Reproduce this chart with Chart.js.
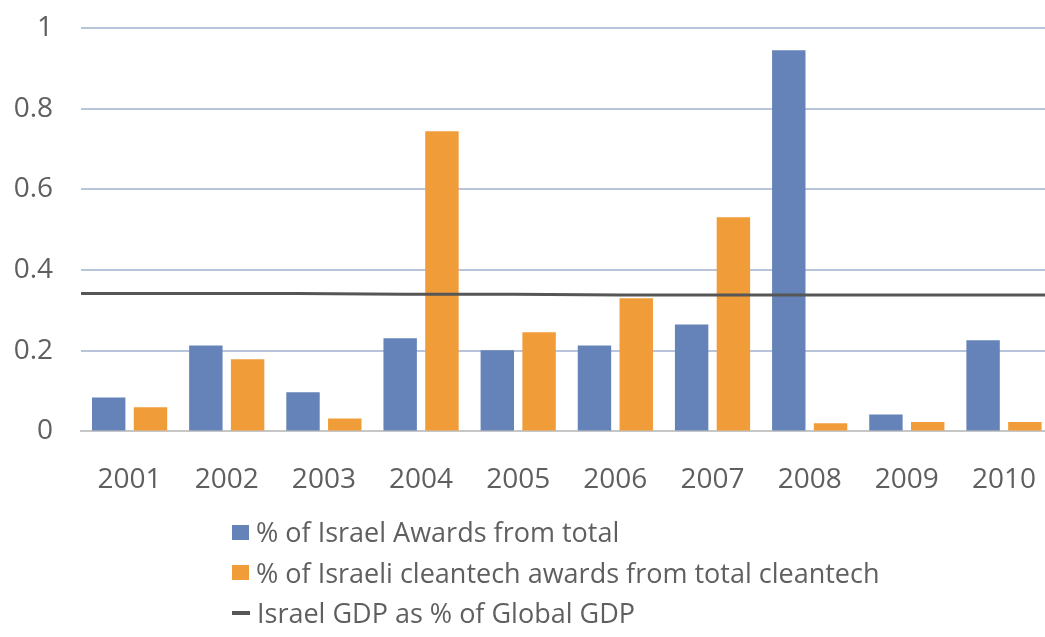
<!DOCTYPE html>
<html>
<head>
<meta charset="utf-8">
<script src="https://cdn.jsdelivr.net/npm/chart.js@4/dist/chart.umd.min.js"></script>
<style>
  html, body { margin: 0; padding: 0; background: #ffffff; overflow: hidden; }
  #wrap { position: relative; width: 1060px; height: 637px; }
  #legend { position: absolute; left: 232px; top: 512px; font-family: "Open Sans", sans-serif; font-size: 27px; color: #5f5f5f; }
  .item { height: 40.5px; line-height: 40.5px; white-space: nowrap; display: flex; align-items: center; }
  .mark { display: inline-block; margin-right: 7px; }
</style>
</head>
<body>
<div id="wrap">
  <canvas id="c" width="1060" height="637"></canvas>
  <div id="legend"></div>
</div>
<script>
const categories = ['2001','2002','2003','2004','2005','2006','2007','2008','2009','2010'];
const israelAwards = [0.084, 0.213, 0.097, 0.231, 0.201, 0.213, 0.265, 0.945, 0.042, 0.226];
const cleantechAwards = [0.060, 0.179, 0.032, 0.744, 0.246, 0.330, 0.531, 0.020, 0.023, 0.023];
const gdpShare = [0.342, 0.342, 0.342, 0.340, 0.340, 0.338, 0.338, 0.338, 0.338, 0.338];
const yTickValues = [0, 0.2, 0.4, 0.6, 0.8, 1];
const yTickLabels = ['0', '0.2', '0.4', '0.6', '0.8', '1'];
const seriesNames = ['% of Israel Awards from total', '% of Israeli cleantech awards from total cleantech', 'Israel GDP as % of Global GDP'];

const BLUE = '#6583B8';
const ORANGE = '#F09C39';
const GDP = '#565656';
const TEXT = '#5f5f5f';
const FONT = '"Open Sans", sans-serif';

// Chart.js 4.5 groups bars per distinct x axis id of *all* datasets; the GDP line
// lives on its own (hidden, edge-to-edge) category axis, so hide that id from the
// bar grouping while the datasets update (scales are already linked by then).
const lineAxisGroupingFix = {
  id: 'lineAxisGroupingFix',
  beforeDatasetsUpdate(chart) {
    chart.data.datasets.forEach(ds => { if (ds.type === 'line' && ds.xAxisID) { ds._savedX = ds.xAxisID; delete ds.xAxisID; } });
  },
  afterDatasetsUpdate(chart) {
    chart.data.datasets.forEach(ds => { if (ds._savedX) { ds.xAxisID = ds._savedX; delete ds._savedX; } });
  }
};

const chart = new Chart(document.getElementById('c'), {
  type: 'bar',
  plugins: [lineAxisGroupingFix],
  data: {
    labels: categories,
    datasets: [
      { label: seriesNames[0], data: israelAwards, backgroundColor: BLUE, categoryPercentage: 0.86, barPercentage: 0.8, order: 1 },
      { label: seriesNames[1], data: cleantechAwards, backgroundColor: ORANGE, categoryPercentage: 0.86, barPercentage: 0.8, order: 1 },
      { type: 'line', label: seriesNames[2], data: gdpShare, xAxisID: 'x2', borderColor: GDP, borderWidth: 3, pointRadius: 0, fill: false, tension: 0, order: 0 }
    ]
  },
  options: {
    responsive: false,
    animation: false,
    devicePixelRatio: 1,
    layout: { padding: { top: 28, bottom: 116, left: 0, right: 0 } },
    plugins: { legend: { display: false }, tooltip: { enabled: false } },
    scales: {
      x: {
        type: 'category',
        grid: { display: false },
        border: { display: true, color: '#C6C6C6', width: 2 },
        ticks: { color: TEXT, font: { family: FONT, size: 28 }, padding: 24, maxRotation: 0 }
      },
      x2: {
        type: 'category',
        labels: categories,
        offset: false,
        display: false,
        grid: { display: false }
      },
      y: {
        min: 0,
        max: 1,
        afterBuildTicks: (scale) => { scale.ticks = yTickValues.map(v => ({ value: v })); },
        afterFit: (scale) => { scale.width = 81; scale.paddingTop = 16; scale.paddingBottom = 16; },
        border: { display: false },
        grid: {
          drawTicks: false,
          color: (ctx) => ctx.tick && ctx.tick.value === 0 ? '#C6C6C6' : '#B8C4DA',
          lineWidth: 2
        },
        ticks: {
          color: TEXT,
          font: { family: FONT, size: 28 },
          padding: 28,
          callback: (value) => {
            const i = yTickValues.indexOf(value);
            return i >= 0 ? yTickLabels[i] : '';
          }
        }
      }
    }
  }
});

// HTML legend built from the chart's datasets
const legend = document.getElementById('legend');
chart.data.datasets.forEach(ds => {
  const row = document.createElement('div');
  row.className = 'item';
  const mark = document.createElement('span');
  mark.className = 'mark';
  if (ds.type === 'line') {
    mark.style.width = '18px'; mark.style.height = '4px'; mark.style.background = ds.borderColor;
  } else {
    mark.style.width = '17px'; mark.style.height = '15px'; mark.style.background = ds.backgroundColor;
  }
  const txt = document.createElement('span');
  txt.textContent = ds.label;
  row.appendChild(mark);
  row.appendChild(txt);
  legend.appendChild(row);
});
</script>
</body>
</html>
